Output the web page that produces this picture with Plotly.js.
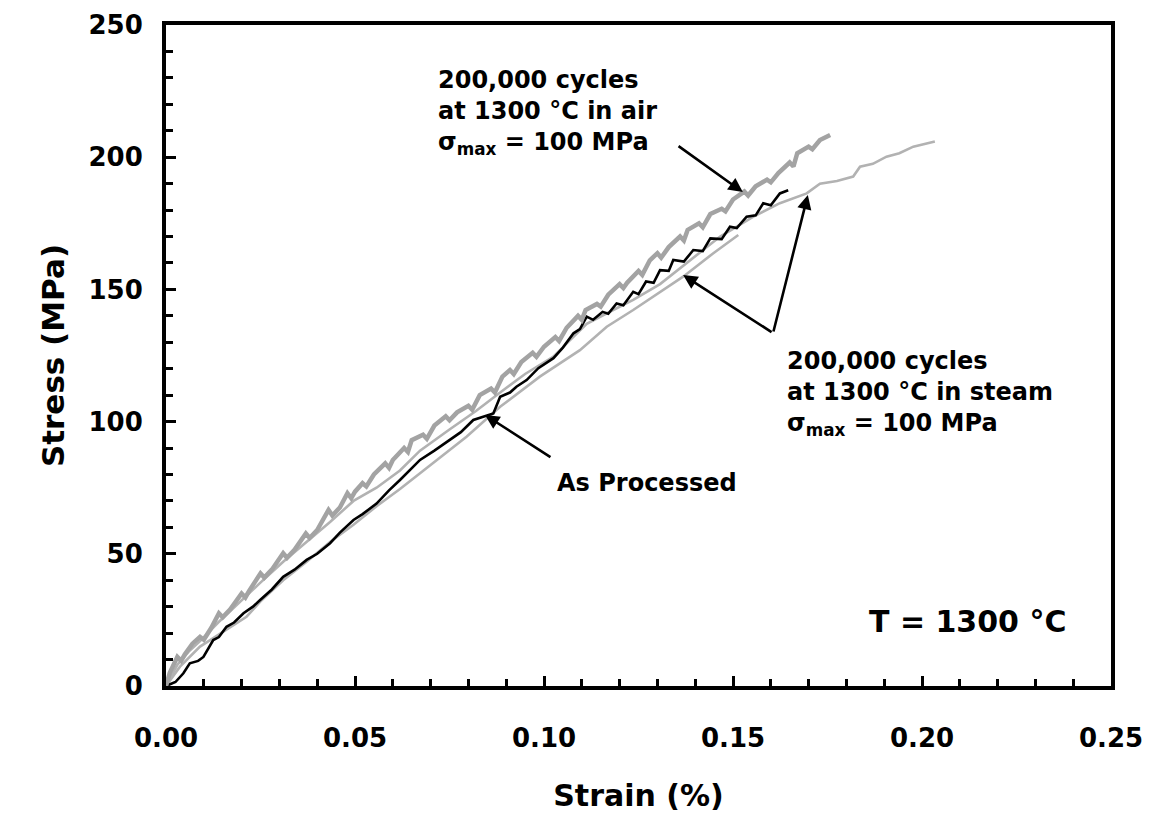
<!DOCTYPE html>
<html><head><meta charset="utf-8">
<script src="https://cdn.plot.ly/plotly-3.0.1.min.js"></script>
<style>html,body{margin:0;padding:0;background:#fff}#chart{width:1153px;height:831px}</style>
</head><body><div id="chart"></div>
<script>
// ---- data (strain in %, stress in MPa) ----
const airStrain = [0, 0.001, 0.003, 0.004, 0.005, 0.007, 0.009, 0.010, 0.012, 0.014, 0.015, 0.017, 0.020, 0.021, 0.022, 0.025, 0.026, 0.028, 0.031, 0.032, 0.034, 0.037, 0.038, 0.040, 0.043, 0.044, 0.046, 0.048, 0.049, 0.050, 0.052, 0.053, 0.055, 0.058, 0.059, 0.060, 0.063, 0.064, 0.065, 0.068, 0.069, 0.071, 0.074, 0.075, 0.077, 0.080, 0.081, 0.083, 0.086, 0.087, 0.089, 0.091, 0.092, 0.094, 0.097, 0.098, 0.100, 0.103, 0.104, 0.106, 0.109, 0.110, 0.111, 0.114, 0.115, 0.117, 0.120, 0.121, 0.122, 0.125, 0.126, 0.128, 0.130, 0.131, 0.133, 0.136, 0.137, 0.138, 0.141, 0.142, 0.144, 0.147, 0.148, 0.150, 0.153, 0.154, 0.156, 0.159, 0.160, 0.162, 0.165, 0.166, 0.167, 0.170, 0.171, 0.173, 0.1757];
const airStress = [0, 5, 11, 9.5, 12, 16, 18.6, 17.5, 22, 27.5, 26, 29, 35, 33.5, 36, 42.6, 41, 44, 50.2, 48.5, 51.5, 57.7, 56, 59, 66.6, 64.5, 67.5, 72.9, 71, 73.5, 76.7, 75.5, 80, 84.2, 82.5, 85.5, 90, 88.5, 93, 95, 93.5, 98.5, 102, 100.5, 103.5, 106, 104.5, 110, 112.5, 111, 117, 119.5, 118, 122.5, 126, 124.5, 128.3, 132, 130.5, 135.5, 140, 138.5, 142.2, 144.5, 143.5, 148, 152, 150.5, 152.5, 157, 155.5, 161, 163.7, 162, 166, 170, 168.5, 172.5, 175, 173.5, 178.5, 180.5, 179.5, 184, 187, 185.5, 189, 191.5, 190.5, 194, 198, 196.5, 201.5, 204, 203, 206.5, 208.4];

const asStrain = [0, 0.0025, 0.0046, 0.0063, 0.0085, 0.0099, 0.0125, 0.014, 0.016, 0.018, 0.0205, 0.023, 0.0249, 0.028, 0.031, 0.034, 0.0372, 0.040, 0.0434, 0.046, 0.0496, 0.052, 0.0557, 0.059, 0.0619, 0.064, 0.0672, 0.071, 0.0751, 0.078, 0.0813, 0.0845, 0.0866, 0.0884, 0.091, 0.0927, 0.0954, 0.0985, 0.1005, 0.1025, 0.105, 0.1078, 0.1095, 0.1113, 0.113, 0.1155, 0.117, 0.1192, 0.121, 0.1236, 0.125, 0.127, 0.129, 0.1307, 0.133, 0.1342, 0.137, 0.1395, 0.142, 0.144, 0.147, 0.1492, 0.151, 0.1536, 0.156, 0.158, 0.160, 0.1624, 0.1646];
const asStress = [0, 1.5, 4.8, 8.6, 9.5, 11, 17.4, 18.5, 22.4, 24, 27.5, 30, 32.5, 36.5, 41.3, 44, 47.7, 50, 54, 58, 62.8, 65, 69, 74, 77.9, 81, 85.5, 89, 93, 96, 100.6, 102, 103.1, 109.4, 111, 113.2, 115.7, 120.2, 122, 124, 128, 133.4, 135, 139.7, 138.5, 141.5, 140.8, 144.7, 144, 149.1, 148.2, 153, 152.5, 157.3, 157, 161.1, 160.5, 164.9, 164.5, 169.3, 169, 173.7, 173.2, 177.5, 178, 182.6, 181.8, 186.3, 187.5];

const steam1Strain = [0, 0.0037, 0.009, 0.016, 0.0213, 0.025, 0.031, 0.0372, 0.0434, 0.0496, 0.0557, 0.0619, 0.0672, 0.0735, 0.0795, 0.0884, 0.0989, 0.1095, 0.1166, 0.1236, 0.1289, 0.1369, 0.1448, 0.1514];
const steam1Stress = [0, 7.3, 14.9, 21.2, 26.2, 32, 40, 47, 54.5, 61, 68, 74.5, 80.4, 87.5, 94.3, 105.6, 117, 127, 135.9, 142.2, 147.3, 154.9, 163.7, 170.6];

const steam2Strain = [0, 0.003, 0.006, 0.009, 0.0138, 0.0196, 0.0249, 0.031, 0.0372, 0.0434, 0.0496, 0.0557, 0.0619, 0.0672, 0.075, 0.082, 0.0884, 0.095, 0.1024, 0.1113, 0.1183, 0.1236, 0.1307, 0.1377, 0.1466, 0.1554, 0.1624, 0.1695, 0.173, 0.1775, 0.1818, 0.1836, 0.187, 0.1906, 0.194, 0.1977, 0.2034];
const steam2Stress = [0, 8, 13, 17, 24, 32, 39, 47, 54.5, 62, 70, 75, 81.5, 89, 97, 104, 111, 118, 124.5, 137, 142.2, 146, 152, 160, 170, 177.5, 182.6, 186.3, 190, 191, 192.7, 196.4, 197.5, 200.2, 201.5, 204, 205.9];

const xTickVals = [0, 0.05, 0.10, 0.15, 0.20, 0.25];
const xTickText = ['0.00', '0.05', '0.10', '0.15', '0.20', '0.25'];
const yTickVals = [0, 50, 100, 150, 200, 250];
const yTickText = ['0', '50', '100', '150', '200', '250'];

const airLabel = '200,000 cycles<br>at 1300 °C in air<br>σ<sub>max</sub> = 100 MPa';
const steamLabel = '200,000 cycles<br>at 1300 °C in steam<br>σ<sub>max</sub> = 100 MPa';
const asLabel = 'As Processed';
const tempLabel = 'T = 1300 °C';

// ---- chart ----
const FONT = 'DejaVu Sans, Arial, sans-serif';
const GREY_THICK = '#a3a3a3';
const GREY_THIN = '#b2b2b2';

const traces = [
  {x: steam1Strain, y: steam1Stress, mode: 'lines', line: {color: GREY_THIN, width: 2.6}},
  {x: steam2Strain, y: steam2Stress, mode: 'lines', line: {color: GREY_THIN, width: 2.6}},
  {x: asStrain, y: asStress, mode: 'lines', line: {color: '#000', width: 2.6}},
  {x: airStrain, y: airStress, mode: 'lines', line: {color: GREY_THICK, width: 4.5}}
];

const txtFont = {family: FONT, size: 24, color: '#000', weight: 'bold'};
function arrow(x, y, ax, ay) {
  return {x: x, y: y, ax: ax, ay: ay, xref: 'x', yref: 'y', axref: 'x', ayref: 'y',
    text: '', showarrow: true, arrowhead: 2, arrowsize: 1.1, arrowwidth: 2.6, arrowcolor: '#000', standoff: 0};
}

const layout = {
  width: 1153, height: 831,
  margin: {l: 166, r: 42, t: 25, b: 145},
  paper_bgcolor: '#fff', plot_bgcolor: '#fff',
  showlegend: false, hovermode: false,
  font: {family: FONT, color: '#000'},
  xaxis: {
    range: [0, 0.25], tickvals: xTickVals, ticktext: xTickText,
    ticks: 'inside', ticklen: 10, tickwidth: 3, tickcolor: '#000',
    minor: {dtick: 0.01, ticks: 'inside', ticklen: 7, tickwidth: 3, tickcolor: '#000', showgrid: false},
    showline: true, linewidth: 4, linecolor: '#000', mirror: true,
    showgrid: false, zeroline: false,
    tickfont: {family: FONT, size: 26, color: '#000', weight: 'bold'},
    ticklabelstandoff: 26,
    title: {text: 'Strain (%)', font: {family: FONT, size: 30, color: '#000', weight: 'bold'}, standoff: 34}
  },
  yaxis: {
    range: [0, 250], tickvals: yTickVals, ticktext: yTickText,
    ticks: 'inside', ticklen: 10, tickwidth: 3, tickcolor: '#000',
    minor: {dtick: 10, ticks: 'inside', ticklen: 7, tickwidth: 3, tickcolor: '#000', showgrid: false},
    showline: true, linewidth: 4, linecolor: '#000', mirror: true,
    showgrid: false, zeroline: false,
    tickfont: {family: FONT, size: 26, color: '#000', weight: 'bold'},
    ticklabelstandoff: 14,
    title: {text: 'Stress (MPa)', font: {family: FONT, size: 31, color: '#000', weight: 'bold'}, standoff: 16}
  },
  annotations: [
    {xref: 'paper', yref: 'paper', x: 0.286, y: 0.867, xanchor: 'left', yanchor: 'middle', align: 'left',
      text: airLabel, showarrow: false, font: txtFont},
    {xref: 'paper', yref: 'paper', x: 0.655, y: 0.443, xanchor: 'left', yanchor: 'middle', align: 'left',
      text: steamLabel, showarrow: false, font: txtFont},
    {xref: 'paper', yref: 'paper', x: 0.412, y: 0.307, xanchor: 'left', yanchor: 'middle', align: 'left',
      text: asLabel, showarrow: false, font: txtFont},
    {xref: 'paper', yref: 'paper', x: 0.848, y: 0.098, xanchor: 'center', yanchor: 'middle',
      text: tempLabel, showarrow: false, font: {family: FONT, size: 30, color: '#000', weight: 'bold'}},
    arrow(0.1526, 186.8, 0.1352, 204.6),
    arrow(0.0844, 102.5, 0.1021, 86.2),
    arrow(0.1368, 155.4, 0.1606, 133.5),
    arrow(0.1698, 185.7, 0.1606, 133.5)
  ]
};

Plotly.newPlot('chart', traces, layout, {staticPlot: true, displayModeBar: false});
</script></body></html>
